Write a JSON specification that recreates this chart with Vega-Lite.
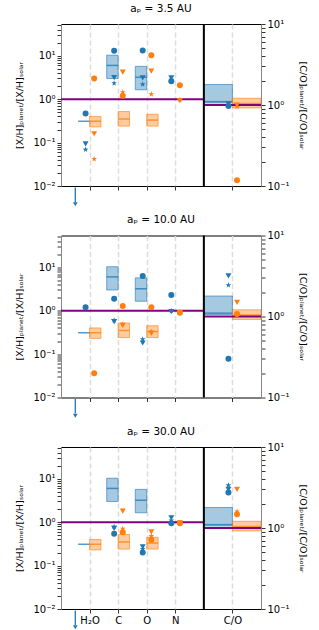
{
  "$schema": "https://vega.github.io/schema/vega-lite/v6.json",
  "padding": {"left": 14, "top": 3, "right": 0, "bottom": 0},
  "spacing": 49.5,
  "bounds": "flush",
  "datasets": {
    "obs": [
      {"planet": "τ Boötis b", "species": "H₂O", "lo": null, "med": 0.31, "hi": null},
      {"planet": "τ Boötis b", "species": "C", "lo": 3.0, "med": 6.0, "hi": 10.3},
      {"planet": "τ Boötis b", "species": "O", "lo": 1.65, "med": 3.2, "hi": 5.7},
      {"planet": "τ Boötis b", "species": "C/O", "lo": 1.06, "med": 1.1, "hi": 1.79},
      {"planet": "WASP-77A b", "species": "H₂O", "lo": 0.23, "med": 0.31, "hi": 0.4},
      {"planet": "WASP-77A b", "species": "C", "lo": 0.24, "med": 0.35, "hi": 0.52},
      {"planet": "WASP-77A b", "species": "O", "lo": 0.24, "med": 0.33, "hi": 0.45},
      {"planet": "WASP-77A b", "species": "C/O", "lo": 0.92, "med": 1.04, "hi": 1.21}
    ],
    "models": [
      {"ap": "3.5", "planet": "τ Boötis b", "species": "H₂O", "alpha": "0.001", "value": 0.47},
      {"ap": "3.5", "planet": "τ Boötis b", "species": "H₂O", "alpha": "0.0005", "value": 0.069},
      {"ap": "3.5", "planet": "τ Boötis b", "species": "H₂O", "alpha": "0.0001", "value": 0.093},
      {"ap": "3.5", "planet": "τ Boötis b", "species": "C", "alpha": "0.001", "value": 13.0},
      {"ap": "3.5", "planet": "τ Boötis b", "species": "C", "alpha": "0.0005", "value": 2.33},
      {"ap": "3.5", "planet": "τ Boötis b", "species": "C", "alpha": "0.0001", "value": 3.14},
      {"ap": "3.5", "planet": "τ Boötis b", "species": "O", "alpha": "0.001", "value": 13.2},
      {"ap": "3.5", "planet": "τ Boötis b", "species": "O", "alpha": "0.0005", "value": 2.2},
      {"ap": "3.5", "planet": "τ Boötis b", "species": "O", "alpha": "0.0001", "value": 3.1},
      {"ap": "3.5", "planet": "τ Boötis b", "species": "N", "alpha": "0.001", "value": 2.6},
      {"ap": "3.5", "planet": "τ Boötis b", "species": "N", "alpha": "0.0005", "value": 2.8},
      {"ap": "3.5", "planet": "τ Boötis b", "species": "N", "alpha": "0.0001", "value": 3.1},
      {"ap": "3.5", "planet": "τ Boötis b", "species": "C/O", "alpha": "0.001", "value": 0.97},
      {"ap": "3.5", "planet": "τ Boötis b", "species": "C/O", "alpha": "0.0005", "value": 1.0},
      {"ap": "3.5", "planet": "τ Boötis b", "species": "C/O", "alpha": "0.0001", "value": 1.03},
      {"ap": "3.5", "planet": "WASP-77A b", "species": "H₂O", "alpha": "0.001", "value": 3.0},
      {"ap": "3.5", "planet": "WASP-77A b", "species": "H₂O", "alpha": "0.0005", "value": 0.042},
      {"ap": "3.5", "planet": "WASP-77A b", "species": "H₂O", "alpha": "0.0001", "value": 0.16},
      {"ap": "3.5", "planet": "WASP-77A b", "species": "C", "alpha": "0.001", "value": 1.2},
      {"ap": "3.5", "planet": "WASP-77A b", "species": "C", "alpha": "0.0005", "value": 1.45},
      {"ap": "3.5", "planet": "WASP-77A b", "species": "C", "alpha": "0.0001", "value": 4.2},
      {"ap": "3.5", "planet": "WASP-77A b", "species": "O", "alpha": "0.001", "value": 10.3},
      {"ap": "3.5", "planet": "WASP-77A b", "species": "O", "alpha": "0.0005", "value": 1.3},
      {"ap": "3.5", "planet": "WASP-77A b", "species": "O", "alpha": "0.0001", "value": 4.45},
      {"ap": "3.5", "planet": "WASP-77A b", "species": "N", "alpha": "0.001", "value": 2.1},
      {"ap": "3.5", "planet": "WASP-77A b", "species": "N", "alpha": "0.0005", "value": 0.97},
      {"ap": "3.5", "planet": "WASP-77A b", "species": "N", "alpha": "0.0001", "value": 0.92},
      {"ap": "3.5", "planet": "WASP-77A b", "species": "C/O", "alpha": "0.001", "value": 0.118},
      {"ap": "3.5", "planet": "WASP-77A b", "species": "C/O", "alpha": "0.0005", "value": 0.95},
      {"ap": "3.5", "planet": "WASP-77A b", "species": "C/O", "alpha": "0.0001", "value": 1.0},
      {"ap": "10.0", "planet": "τ Boötis b", "species": "H₂O", "alpha": "0.001", "value": 1.2},
      {"ap": "10.0", "planet": "τ Boötis b", "species": "C", "alpha": "0.001", "value": 1.88},
      {"ap": "10.0", "planet": "τ Boötis b", "species": "C", "alpha": "0.0005", "value": 0.6},
      {"ap": "10.0", "planet": "τ Boötis b", "species": "C", "alpha": "0.0001", "value": 0.56},
      {"ap": "10.0", "planet": "τ Boötis b", "species": "O", "alpha": "0.001", "value": 6.3},
      {"ap": "10.0", "planet": "τ Boötis b", "species": "O", "alpha": "0.0005", "value": 0.22},
      {"ap": "10.0", "planet": "τ Boötis b", "species": "O", "alpha": "0.0001", "value": 0.18},
      {"ap": "10.0", "planet": "τ Boötis b", "species": "N", "alpha": "0.001", "value": 2.29},
      {"ap": "10.0", "planet": "τ Boötis b", "species": "N", "alpha": "0.0005", "value": 1.0},
      {"ap": "10.0", "planet": "τ Boötis b", "species": "N", "alpha": "0.0001", "value": 0.95},
      {"ap": "10.0", "planet": "τ Boötis b", "species": "C/O", "alpha": "0.001", "value": 0.3},
      {"ap": "10.0", "planet": "τ Boötis b", "species": "C/O", "alpha": "0.0005", "value": 2.44},
      {"ap": "10.0", "planet": "τ Boötis b", "species": "C/O", "alpha": "0.0001", "value": 3.18},
      {"ap": "10.0", "planet": "WASP-77A b", "species": "H₂O", "alpha": "0.001", "value": 0.036},
      {"ap": "10.0", "planet": "WASP-77A b", "species": "C", "alpha": "0.001", "value": 1.28},
      {"ap": "10.0", "planet": "WASP-77A b", "species": "C", "alpha": "0.0005", "value": 0.49},
      {"ap": "10.0", "planet": "WASP-77A b", "species": "C", "alpha": "0.0001", "value": 0.46},
      {"ap": "10.0", "planet": "WASP-77A b", "species": "O", "alpha": "0.001", "value": 1.2},
      {"ap": "10.0", "planet": "WASP-77A b", "species": "O", "alpha": "0.0005", "value": 0.33},
      {"ap": "10.0", "planet": "WASP-77A b", "species": "O", "alpha": "0.0001", "value": 0.3},
      {"ap": "10.0", "planet": "WASP-77A b", "species": "N", "alpha": "0.001", "value": 0.9},
      {"ap": "10.0", "planet": "WASP-77A b", "species": "N", "alpha": "0.0005", "value": 0.9},
      {"ap": "10.0", "planet": "WASP-77A b", "species": "N", "alpha": "0.0001", "value": 0.9},
      {"ap": "10.0", "planet": "WASP-77A b", "species": "C/O", "alpha": "0.001", "value": 1.07},
      {"ap": "10.0", "planet": "WASP-77A b", "species": "C/O", "alpha": "0.0005", "value": 1.1},
      {"ap": "10.0", "planet": "WASP-77A b", "species": "C/O", "alpha": "0.0001", "value": 1.49},
      {"ap": "30.0", "planet": "τ Boötis b", "species": "C", "alpha": "0.001", "value": 0.54},
      {"ap": "30.0", "planet": "τ Boötis b", "species": "C", "alpha": "0.0005", "value": 0.79},
      {"ap": "30.0", "planet": "τ Boötis b", "species": "C", "alpha": "0.0001", "value": 0.72},
      {"ap": "30.0", "planet": "τ Boötis b", "species": "O", "alpha": "0.001", "value": 0.2},
      {"ap": "30.0", "planet": "τ Boötis b", "species": "O", "alpha": "0.0005", "value": 0.24},
      {"ap": "30.0", "planet": "τ Boötis b", "species": "O", "alpha": "0.0001", "value": 0.27},
      {"ap": "30.0", "planet": "τ Boötis b", "species": "N", "alpha": "0.001", "value": 0.95},
      {"ap": "30.0", "planet": "τ Boötis b", "species": "N", "alpha": "0.0005", "value": 1.1},
      {"ap": "30.0", "planet": "τ Boötis b", "species": "N", "alpha": "0.0001", "value": 1.26},
      {"ap": "30.0", "planet": "τ Boötis b", "species": "C/O", "alpha": "0.001", "value": 2.74},
      {"ap": "30.0", "planet": "τ Boötis b", "species": "C/O", "alpha": "0.0005", "value": 3.37},
      {"ap": "30.0", "planet": "τ Boötis b", "species": "C/O", "alpha": "0.0001", "value": 3.0},
      {"ap": "30.0", "planet": "WASP-77A b", "species": "C", "alpha": "0.001", "value": 0.59},
      {"ap": "30.0", "planet": "WASP-77A b", "species": "C", "alpha": "0.0005", "value": 0.71},
      {"ap": "30.0", "planet": "WASP-77A b", "species": "C", "alpha": "0.0001", "value": 1.8},
      {"ap": "30.0", "planet": "WASP-77A b", "species": "O", "alpha": "0.001", "value": 0.395},
      {"ap": "30.0", "planet": "WASP-77A b", "species": "O", "alpha": "0.0005", "value": 0.48},
      {"ap": "30.0", "planet": "WASP-77A b", "species": "O", "alpha": "0.0001", "value": 0.6},
      {"ap": "30.0", "planet": "WASP-77A b", "species": "N", "alpha": "0.001", "value": 0.95},
      {"ap": "30.0", "planet": "WASP-77A b", "species": "N", "alpha": "0.0005", "value": 0.95},
      {"ap": "30.0", "planet": "WASP-77A b", "species": "N", "alpha": "0.0001", "value": 0.97},
      {"ap": "30.0", "planet": "WASP-77A b", "species": "C/O", "alpha": "0.001", "value": 1.48},
      {"ap": "30.0", "planet": "WASP-77A b", "species": "C/O", "alpha": "0.0005", "value": 1.6},
      {"ap": "30.0", "planet": "WASP-77A b", "species": "C/O", "alpha": "0.0001", "value": 3.0}
    ]
  },
  "resolve": {"scale": {"color": "independent", "shape": "independent"}, "legend": {"color": "independent", "shape": "independent"}},
  "vconcat": [
    {
      "title": {"text": "aₚ = 3.5 AU"},
      "width": 200, "height": 162,
      "resolve": {"scale": {"y": "independent"}, "axis": {"y": "independent"}},
      "layer": [
        {"layer": [
          {"data": {"name": "obs"}, "transform": [{"filter": "datum.planet == 'τ Boötis b' && datum.species != 'C/O' && isValid(datum.lo)"}],
           "mark": {"type": "bar", "width": 11.43, "xOffset": -5.71, "fill": "#1f77b4", "fillOpacity": 0.4, "stroke": "#1f77b4", "strokeOpacity": 0.6, "strokeWidth": 1},
           "encoding": {
             "x": {"field": "species", "type": "nominal", "title": null, "scale": {"type": "point", "domain": ["l", "H₂O", "C", "O", "N", "m", "C/O", "r"], "padding": 0},
                   "axis": {"values": ["H₂O", "C", "O", "N", "C/O"], "labels": false, "grid": true, "gridDash": [5, 3], "gridColor": "#dcdcdc", "gridWidth": 1.5, "tickSize": 4, "domain": false}},
             "y": {"field": "lo", "type": "quantitative", "title": "[X/H]ₚₗₐₙₑₜ/[X/H]ₛₒₗₐᵣ", "scale": {"type": "log", "domain": [0.01, 54], "nice": false},
                   "axis": {"orient": "left", "values": [0.01, 0.02, 0.03, 0.04, 0.05, 0.06, 0.07, 0.08, 0.09, 0.1, 0.2, 0.3, 0.4, 0.5, 0.6, 0.7, 0.8, 0.9, 1, 2, 3, 4, 5, 6, 7, 8, 9, 10, 20, 30, 40, 50],
                            "labelExpr": "datum.value == 10 ? '10¹' : datum.value == 1 ? '10⁰' : datum.value == 0.1 ? '10⁻¹' : datum.value == 0.01 ? '10⁻²' : ''",
                            "tickSize": 4, "encode": {"ticks": {"update": {"x2": {"signal": "indexof([0.01, 0.1, 1, 10], datum.value) >= 0 ? -4 : -2"}}}}, "titlePadding": 8, "grid": false}},
             "y2": {"field": "hi"}}},
          {"data": {"name": "obs"}, "transform": [{"filter": "datum.planet == 'WASP-77A b' && datum.species != 'C/O' && isValid(datum.lo)"}],
           "mark": {"type": "bar", "width": 11.43, "xOffset": 5.71, "fill": "#ff7f0e", "fillOpacity": 0.4, "stroke": "#ff7f0e", "strokeOpacity": 0.6, "strokeWidth": 1},
           "encoding": {"x": {"field": "species", "type": "nominal", "title": null}, "y": {"field": "lo", "type": "quantitative", "title": "[X/H]ₚₗₐₙₑₜ/[X/H]ₛₒₗₐᵣ"}, "y2": {"field": "hi"}}},
          {"data": {"name": "obs"}, "transform": [{"filter": "datum.planet == 'τ Boötis b' && datum.species != 'C/O'"}],
           "mark": {"type": "tick", "size": 11.43, "thickness": 1.5, "xOffset": -5.71, "opacity": 0.75},
           "encoding": {"x": {"field": "species", "type": "nominal", "title": null}, "y": {"field": "med", "type": "quantitative", "title": "[X/H]ₚₗₐₙₑₜ/[X/H]ₛₒₗₐᵣ"},
             "color": {"field": "planet", "type": "nominal", "scale": {"domain": ["τ Boötis b", "WASP-77A b"], "range": ["#1f77b4", "#ff7f0e"]}, "legend": null}}},
          {"data": {"name": "obs"}, "transform": [{"filter": "datum.planet == 'WASP-77A b' && datum.species != 'C/O'"}],
           "mark": {"type": "tick", "size": 11.43, "thickness": 1.5, "xOffset": 5.71, "opacity": 0.75},
           "encoding": {"x": {"field": "species", "type": "nominal", "title": null}, "y": {"field": "med", "type": "quantitative", "title": "[X/H]ₚₗₐₙₑₜ/[X/H]ₛₒₗₐᵣ"},
             "color": {"field": "planet", "type": "nominal", "legend": null}}},
          {"data": {"name": "obs"}, "transform": [{"filter": "datum.species == 'none'"}],
           "mark": {"type": "rule", "strokeWidth": 2},
           "encoding": {"y": {"field": "med", "type": "quantitative", "title": "[X/H]ₚₗₐₙₑₜ/[X/H]ₛₒₗₐᵣ"},
             "color": {"field": "planet", "type": "nominal",
               "legend": {"orient": "bottom-right", "offset": 6, "title": null, "symbolType": "stroke", "symbolSize": 260, "symbolStrokeWidth": 2, "labelFontSize": 9.5, "strokeColor": "#cccccc", "fillColor": "white", "cornerRadius": 3, "padding": 5, "rowPadding": 4}}}},
          {"data": {"values": [{}]}, "mark": {"type": "rule", "color": "#800080", "strokeWidth": 2},
           "encoding": {"x": {"datum": "l", "type": "nominal"}, "x2": {"datum": "m"}, "y": {"datum": 1, "type": "quantitative"}}},
          {"data": {"name": "models"}, "transform": [{"filter": "datum.ap == '3.5' && datum.planet == 'τ Boötis b' && datum.species != 'C/O'"}],
           "mark": {"type": "point", "filled": true, "size": 36, "xOffset": -4, "color": "#1f77b4", "opacity": 1},
           "encoding": {"x": {"field": "species", "type": "nominal", "title": null}, "y": {"field": "value", "type": "quantitative", "title": "[X/H]ₚₗₐₙₑₜ/[X/H]ₛₒₗₐᵣ"},
             "shape": {"field": "alpha", "type": "nominal", "scale": {"domain": ["0.001", "0.0005", "0.0001"], "range": ["circle", "M0,-1L0.235,-0.324L0.951,-0.309L0.38,0.124L0.588,0.809L0,0.4L-0.588,0.809L-0.38,0.124L-0.951,-0.309L-0.235,-0.324Z", "triangle-down"]}, "legend": null}}},
          {"data": {"name": "models"}, "transform": [{"filter": "datum.ap == '3.5' && datum.planet == 'WASP-77A b' && datum.species != 'C/O'"}],
           "mark": {"type": "point", "filled": true, "size": 36, "xOffset": 4.6, "color": "#ff7f0e", "opacity": 1},
           "encoding": {"x": {"field": "species", "type": "nominal", "title": null}, "y": {"field": "value", "type": "quantitative", "title": "[X/H]ₚₗₐₙₑₜ/[X/H]ₛₒₗₐᵣ"},
             "shape": {"field": "alpha", "type": "nominal", "legend": null}}},
          {"data": {"values": [{}]}, "mark": {"type": "rule", "color": "#1f77b4", "strokeWidth": 1.3, "xOffset": -14.29},
           "encoding": {"x": {"datum": "H₂O", "type": "nominal"}, "y": {"datum": 0.0092, "type": "quantitative"}, "y2": {"datum": 0.0043}}},
          {"data": {"values": [{}]}, "mark": {"type": "point", "shape": "triangle-down", "filled": true, "size": 22, "color": "#1f77b4", "opacity": 1, "xOffset": -14.29},
           "encoding": {"x": {"datum": "H₂O", "type": "nominal"}, "y": {"datum": 0.0038, "type": "quantitative"}}}
        ]},
        {"layer": [
          {"data": {"name": "obs"}, "transform": [{"filter": "datum.planet == 'τ Boötis b' && datum.species == 'C/O'"}],
           "mark": {"type": "bar", "width": 28.57, "xOffset": -14.29, "fill": "#1f77b4", "fillOpacity": 0.4, "stroke": "#1f77b4", "strokeOpacity": 0.6, "strokeWidth": 1},
           "encoding": {"x": {"field": "species", "type": "nominal", "title": null},
             "y": {"field": "lo", "type": "quantitative", "title": "[C/O]ₚₗₐₙₑₜ/[C/O]ₛₒₗₐᵣ", "scale": {"type": "log", "domain": [0.1, 10], "nice": false},
                   "axis": {"orient": "right", "values": [0.1, 0.2, 0.3, 0.4, 0.5, 0.6, 0.7, 0.8, 0.9, 1, 2, 3, 4, 5, 6, 7, 8, 9, 10],
                            "labelExpr": "datum.value == 10 ? '10¹' : datum.value == 1 ? '10⁰' : datum.value == 0.1 ? '10⁻¹' : ''",
                            "tickSize": 4, "encode": {"ticks": {"update": {"x2": {"signal": "indexof([0.1, 1, 10], datum.value) >= 0 ? 4 : 2"}}}}, "titlePadding": 8, "grid": false}},
             "y2": {"field": "hi"}}},
          {"data": {"name": "obs"}, "transform": [{"filter": "datum.planet == 'WASP-77A b' && datum.species == 'C/O'"}],
           "mark": {"type": "bar", "width": 28.57, "xOffset": 14.29, "fill": "#ff7f0e", "fillOpacity": 0.4, "stroke": "#ff7f0e", "strokeOpacity": 0.6, "strokeWidth": 1},
           "encoding": {"x": {"field": "species", "type": "nominal", "title": null}, "y": {"field": "lo", "type": "quantitative", "title": "[C/O]ₚₗₐₙₑₜ/[C/O]ₛₒₗₐᵣ"}, "y2": {"field": "hi"}}},
          {"data": {"name": "obs"}, "transform": [{"filter": "datum.planet == 'τ Boötis b' && datum.species == 'C/O'"}],
           "mark": {"type": "tick", "size": 28.57, "thickness": 1.5, "xOffset": -14.29, "opacity": 0.75, "color": "#1f77b4"},
           "encoding": {"x": {"field": "species", "type": "nominal", "title": null}, "y": {"field": "med", "type": "quantitative", "title": "[C/O]ₚₗₐₙₑₜ/[C/O]ₛₒₗₐᵣ"}}},
          {"data": {"name": "obs"}, "transform": [{"filter": "datum.planet == 'WASP-77A b' && datum.species == 'C/O'"}],
           "mark": {"type": "tick", "size": 28.57, "thickness": 1.5, "xOffset": 14.29, "opacity": 0.75, "color": "#ff7f0e"},
           "encoding": {"x": {"field": "species", "type": "nominal", "title": null}, "y": {"field": "med", "type": "quantitative", "title": "[C/O]ₚₗₐₙₑₜ/[C/O]ₛₒₗₐᵣ"}}},
          {"data": {"values": [{}]}, "mark": {"type": "rule", "color": "#800080", "strokeWidth": 2},
           "encoding": {"x": {"datum": "m", "type": "nominal"}, "x2": {"datum": "r"}, "y": {"datum": 1, "type": "quantitative"}}},
          {"data": {"values": [{}]}, "mark": {"type": "rule", "color": "black", "strokeWidth": 2},
           "encoding": {"x": {"datum": "m", "type": "nominal"}}},
          {"data": {"name": "models"}, "transform": [{"filter": "datum.ap == '3.5' && datum.planet == 'τ Boötis b' && datum.species == 'C/O'"}],
           "mark": {"type": "point", "filled": true, "size": 36, "xOffset": -4, "color": "#1f77b4", "opacity": 1},
           "encoding": {"x": {"field": "species", "type": "nominal", "title": null}, "y": {"field": "value", "type": "quantitative", "title": "[C/O]ₚₗₐₙₑₜ/[C/O]ₛₒₗₐᵣ"},
             "shape": {"field": "alpha", "type": "nominal", "legend": null}}},
          {"data": {"name": "models"}, "transform": [{"filter": "datum.ap == '3.5' && datum.planet == 'WASP-77A b' && datum.species == 'C/O'"}],
           "mark": {"type": "point", "filled": true, "size": 36, "xOffset": 4.6, "color": "#ff7f0e", "opacity": 1},
           "encoding": {"x": {"field": "species", "type": "nominal", "title": null}, "y": {"field": "value", "type": "quantitative", "title": "[C/O]ₚₗₐₙₑₜ/[C/O]ₛₒₗₐᵣ"},
             "shape": {"field": "alpha", "type": "nominal", "legend": null}}}
        ]}
      ]
    },
    {
      "title": {"text": "aₚ = 10.0 AU"},
      "width": 200, "height": 162,
      "resolve": {"scale": {"y": "independent"}, "axis": {"y": "independent"}},
      "layer": [
        {"layer": [
          {"data": {"name": "obs"}, "transform": [{"filter": "datum.planet == 'τ Boötis b' && datum.species != 'C/O' && isValid(datum.lo)"}],
           "mark": {"type": "bar", "width": 11.43, "xOffset": -5.71, "fill": "#1f77b4", "fillOpacity": 0.4, "stroke": "#1f77b4", "strokeOpacity": 0.6, "strokeWidth": 1},
           "encoding": {
             "x": {"field": "species", "type": "nominal", "title": null, "scale": {"type": "point", "domain": ["l", "H₂O", "C", "O", "N", "m", "C/O", "r"], "padding": 0},
                   "axis": {"values": ["H₂O", "C", "O", "N", "C/O"], "labels": false, "grid": true, "gridDash": [5, 3], "gridColor": "#dcdcdc", "gridWidth": 1.5, "tickSize": 4, "domain": false}},
             "y": {"field": "lo", "type": "quantitative", "title": "[X/H]ₚₗₐₙₑₜ/[X/H]ₛₒₗₐᵣ", "scale": {"type": "log", "domain": [0.01, 54], "nice": false},
                   "axis": {"orient": "left", "values": [0.01, 0.02, 0.03, 0.04, 0.05, 0.06, 0.07, 0.08, 0.09, 0.1, 0.2, 0.3, 0.4, 0.5, 0.6, 0.7, 0.8, 0.9, 1, 2, 3, 4, 5, 6, 7, 8, 9, 10, 20, 30, 40, 50],
                            "labelExpr": "datum.value == 10 ? '10¹' : datum.value == 1 ? '10⁰' : datum.value == 0.1 ? '10⁻¹' : datum.value == 0.01 ? '10⁻²' : ''",
                            "tickSize": 4, "encode": {"ticks": {"update": {"x2": {"signal": "indexof([0.01, 0.1, 1, 10], datum.value) >= 0 ? -4 : -2"}}}}, "titlePadding": 8, "grid": false}},
             "y2": {"field": "hi"}}},
          {"data": {"name": "obs"}, "transform": [{"filter": "datum.planet == 'WASP-77A b' && datum.species != 'C/O' && isValid(datum.lo)"}],
           "mark": {"type": "bar", "width": 11.43, "xOffset": 5.71, "fill": "#ff7f0e", "fillOpacity": 0.4, "stroke": "#ff7f0e", "strokeOpacity": 0.6, "strokeWidth": 1},
           "encoding": {"x": {"field": "species", "type": "nominal", "title": null}, "y": {"field": "lo", "type": "quantitative", "title": "[X/H]ₚₗₐₙₑₜ/[X/H]ₛₒₗₐᵣ"}, "y2": {"field": "hi"}}},
          {"data": {"name": "obs"}, "transform": [{"filter": "datum.planet == 'τ Boötis b' && datum.species != 'C/O'"}],
           "mark": {"type": "tick", "size": 11.43, "thickness": 1.5, "xOffset": -5.71, "opacity": 0.75, "color": "#1f77b4"},
           "encoding": {"x": {"field": "species", "type": "nominal", "title": null}, "y": {"field": "med", "type": "quantitative", "title": "[X/H]ₚₗₐₙₑₜ/[X/H]ₛₒₗₐᵣ"}}},
          {"data": {"name": "obs"}, "transform": [{"filter": "datum.planet == 'WASP-77A b' && datum.species != 'C/O'"}],
           "mark": {"type": "tick", "size": 11.43, "thickness": 1.5, "xOffset": 5.71, "opacity": 0.75, "color": "#ff7f0e"},
           "encoding": {"x": {"field": "species", "type": "nominal", "title": null}, "y": {"field": "med", "type": "quantitative", "title": "[X/H]ₚₗₐₙₑₜ/[X/H]ₛₒₗₐᵣ"}}},
          {"data": {"values": [{}]}, "mark": {"type": "rule", "color": "#800080", "strokeWidth": 2},
           "encoding": {"x": {"datum": "l", "type": "nominal"}, "x2": {"datum": "m"}, "y": {"datum": 1, "type": "quantitative"}}},
          {"data": {"name": "models"}, "transform": [{"filter": "datum.ap == '10.0' && datum.planet == 'τ Boötis b' && datum.species != 'C/O'"}],
           "mark": {"type": "point", "filled": true, "size": 36, "xOffset": -4, "color": "#1f77b4", "opacity": 1},
           "encoding": {"x": {"field": "species", "type": "nominal", "title": null}, "y": {"field": "value", "type": "quantitative", "title": "[X/H]ₚₗₐₙₑₜ/[X/H]ₛₒₗₐᵣ"},
             "shape": {"field": "alpha", "type": "nominal", "scale": {"domain": ["0.001", "0.0005", "0.0001"], "range": ["circle", "M0,-1L0.235,-0.324L0.951,-0.309L0.38,0.124L0.588,0.809L0,0.4L-0.588,0.809L-0.38,0.124L-0.951,-0.309L-0.235,-0.324Z", "triangle-down"]}, "legend": null}}},
          {"data": {"name": "models"}, "transform": [{"filter": "datum.ap == '10.0' && datum.planet == 'WASP-77A b' && datum.species != 'C/O'"}],
           "mark": {"type": "point", "filled": true, "size": 36, "xOffset": 4.6, "color": "#ff7f0e", "opacity": 1},
           "encoding": {"x": {"field": "species", "type": "nominal", "title": null}, "y": {"field": "value", "type": "quantitative", "title": "[X/H]ₚₗₐₙₑₜ/[X/H]ₛₒₗₐᵣ"},
             "shape": {"field": "alpha", "type": "nominal", "legend": null}}},
          {"data": {"name": "models"}, "transform": [{"filter": "datum.ap == 'none'"}],
           "mark": {"type": "point", "filled": true, "size": 36, "color": "black", "opacity": 1},
           "encoding": {"y": {"field": "value", "type": "quantitative", "title": "[X/H]ₚₗₐₙₑₜ/[X/H]ₛₒₗₐᵣ"},
             "shape": {"field": "alpha", "type": "nominal",
               "legend": {"orient": "bottom-right", "offset": 4, "title": null, "labelExpr": "'α = ' + datum.label", "symbolSize": 60, "symbolFillColor": "black", "symbolStrokeColor": "black", "labelFontSize": 9.5, "strokeColor": "#cccccc", "fillColor": "white", "cornerRadius": 3, "padding": 5, "rowPadding": 4}}}},
          {"data": {"values": [{}]}, "mark": {"type": "rule", "color": "#1f77b4", "strokeWidth": 1.3, "xOffset": -14.29},
           "encoding": {"x": {"datum": "H₂O", "type": "nominal"}, "y": {"datum": 0.0092, "type": "quantitative"}, "y2": {"datum": 0.0043}}},
          {"data": {"values": [{}]}, "mark": {"type": "point", "shape": "triangle-down", "filled": true, "size": 22, "color": "#1f77b4", "opacity": 1, "xOffset": -14.29},
           "encoding": {"x": {"datum": "H₂O", "type": "nominal"}, "y": {"datum": 0.0038, "type": "quantitative"}}}
        ]},
        {"layer": [
          {"data": {"name": "obs"}, "transform": [{"filter": "datum.planet == 'τ Boötis b' && datum.species == 'C/O'"}],
           "mark": {"type": "bar", "width": 28.57, "xOffset": -14.29, "fill": "#1f77b4", "fillOpacity": 0.4, "stroke": "#1f77b4", "strokeOpacity": 0.6, "strokeWidth": 1},
           "encoding": {"x": {"field": "species", "type": "nominal", "title": null},
             "y": {"field": "lo", "type": "quantitative", "title": "[C/O]ₚₗₐₙₑₜ/[C/O]ₛₒₗₐᵣ", "scale": {"type": "log", "domain": [0.1, 10], "nice": false},
                   "axis": {"orient": "right", "values": [0.1, 0.2, 0.3, 0.4, 0.5, 0.6, 0.7, 0.8, 0.9, 1, 2, 3, 4, 5, 6, 7, 8, 9, 10],
                            "labelExpr": "datum.value == 10 ? '10¹' : datum.value == 1 ? '10⁰' : datum.value == 0.1 ? '10⁻¹' : ''",
                            "tickSize": 4, "encode": {"ticks": {"update": {"x2": {"signal": "indexof([0.1, 1, 10], datum.value) >= 0 ? 4 : 2"}}}}, "titlePadding": 8, "grid": false}},
             "y2": {"field": "hi"}}},
          {"data": {"name": "obs"}, "transform": [{"filter": "datum.planet == 'WASP-77A b' && datum.species == 'C/O'"}],
           "mark": {"type": "bar", "width": 28.57, "xOffset": 14.29, "fill": "#ff7f0e", "fillOpacity": 0.4, "stroke": "#ff7f0e", "strokeOpacity": 0.6, "strokeWidth": 1},
           "encoding": {"x": {"field": "species", "type": "nominal", "title": null}, "y": {"field": "lo", "type": "quantitative", "title": "[C/O]ₚₗₐₙₑₜ/[C/O]ₛₒₗₐᵣ"}, "y2": {"field": "hi"}}},
          {"data": {"name": "obs"}, "transform": [{"filter": "datum.planet == 'τ Boötis b' && datum.species == 'C/O'"}],
           "mark": {"type": "tick", "size": 28.57, "thickness": 1.5, "xOffset": -14.29, "opacity": 0.75, "color": "#1f77b4"},
           "encoding": {"x": {"field": "species", "type": "nominal", "title": null}, "y": {"field": "med", "type": "quantitative", "title": "[C/O]ₚₗₐₙₑₜ/[C/O]ₛₒₗₐᵣ"}}},
          {"data": {"name": "obs"}, "transform": [{"filter": "datum.planet == 'WASP-77A b' && datum.species == 'C/O'"}],
           "mark": {"type": "tick", "size": 28.57, "thickness": 1.5, "xOffset": 14.29, "opacity": 0.75, "color": "#ff7f0e"},
           "encoding": {"x": {"field": "species", "type": "nominal", "title": null}, "y": {"field": "med", "type": "quantitative", "title": "[C/O]ₚₗₐₙₑₜ/[C/O]ₛₒₗₐᵣ"}}},
          {"data": {"values": [{}]}, "mark": {"type": "rule", "color": "#800080", "strokeWidth": 2},
           "encoding": {"x": {"datum": "m", "type": "nominal"}, "x2": {"datum": "r"}, "y": {"datum": 1, "type": "quantitative"}}},
          {"data": {"values": [{}]}, "mark": {"type": "rule", "color": "black", "strokeWidth": 2},
           "encoding": {"x": {"datum": "m", "type": "nominal"}}},
          {"data": {"name": "models"}, "transform": [{"filter": "datum.ap == '10.0' && datum.planet == 'τ Boötis b' && datum.species == 'C/O'"}],
           "mark": {"type": "point", "filled": true, "size": 36, "xOffset": -4, "color": "#1f77b4", "opacity": 1},
           "encoding": {"x": {"field": "species", "type": "nominal", "title": null}, "y": {"field": "value", "type": "quantitative", "title": "[C/O]ₚₗₐₙₑₜ/[C/O]ₛₒₗₐᵣ"},
             "shape": {"field": "alpha", "type": "nominal", "legend": null}}},
          {"data": {"name": "models"}, "transform": [{"filter": "datum.ap == '10.0' && datum.planet == 'WASP-77A b' && datum.species == 'C/O'"}],
           "mark": {"type": "point", "filled": true, "size": 36, "xOffset": 4.6, "color": "#ff7f0e", "opacity": 1},
           "encoding": {"x": {"field": "species", "type": "nominal", "title": null}, "y": {"field": "value", "type": "quantitative", "title": "[C/O]ₚₗₐₙₑₜ/[C/O]ₛₒₗₐᵣ"},
             "shape": {"field": "alpha", "type": "nominal", "legend": null}}}
        ]}
      ]
    },
    {
      "title": {"text": "aₚ = 30.0 AU"},
      "width": 200, "height": 162,
      "resolve": {"scale": {"y": "independent"}, "axis": {"y": "independent"}},
      "layer": [
        {"layer": [
          {"data": {"name": "obs"}, "transform": [{"filter": "datum.planet == 'τ Boötis b' && datum.species != 'C/O' && isValid(datum.lo)"}],
           "mark": {"type": "bar", "width": 11.43, "xOffset": -5.71, "fill": "#1f77b4", "fillOpacity": 0.4, "stroke": "#1f77b4", "strokeOpacity": 0.6, "strokeWidth": 1},
           "encoding": {
             "x": {"field": "species", "type": "nominal", "title": null, "scale": {"type": "point", "domain": ["l", "H₂O", "C", "O", "N", "m", "C/O", "r"], "padding": 0},
                   "axis": {"values": ["H₂O", "C", "O", "N", "C/O"], "labels": true, "labelAngle": 0, "labelPadding": 2, "grid": true, "gridDash": [5, 3], "gridColor": "#dcdcdc", "gridWidth": 1.5, "tickSize": 4, "domain": false}},
             "y": {"field": "lo", "type": "quantitative", "title": "[X/H]ₚₗₐₙₑₜ/[X/H]ₛₒₗₐᵣ", "scale": {"type": "log", "domain": [0.01, 54], "nice": false},
                   "axis": {"orient": "left", "values": [0.01, 0.02, 0.03, 0.04, 0.05, 0.06, 0.07, 0.08, 0.09, 0.1, 0.2, 0.3, 0.4, 0.5, 0.6, 0.7, 0.8, 0.9, 1, 2, 3, 4, 5, 6, 7, 8, 9, 10, 20, 30, 40, 50],
                            "labelExpr": "datum.value == 10 ? '10¹' : datum.value == 1 ? '10⁰' : datum.value == 0.1 ? '10⁻¹' : datum.value == 0.01 ? '10⁻²' : ''",
                            "tickSize": 4, "encode": {"ticks": {"update": {"x2": {"signal": "indexof([0.01, 0.1, 1, 10], datum.value) >= 0 ? -4 : -2"}}}}, "titlePadding": 8, "grid": false}},
             "y2": {"field": "hi"}}},
          {"data": {"name": "obs"}, "transform": [{"filter": "datum.planet == 'WASP-77A b' && datum.species != 'C/O' && isValid(datum.lo)"}],
           "mark": {"type": "bar", "width": 11.43, "xOffset": 5.71, "fill": "#ff7f0e", "fillOpacity": 0.4, "stroke": "#ff7f0e", "strokeOpacity": 0.6, "strokeWidth": 1},
           "encoding": {"x": {"field": "species", "type": "nominal", "title": null}, "y": {"field": "lo", "type": "quantitative", "title": "[X/H]ₚₗₐₙₑₜ/[X/H]ₛₒₗₐᵣ"}, "y2": {"field": "hi"}}},
          {"data": {"name": "obs"}, "transform": [{"filter": "datum.planet == 'τ Boötis b' && datum.species != 'C/O'"}],
           "mark": {"type": "tick", "size": 11.43, "thickness": 1.5, "xOffset": -5.71, "opacity": 0.75, "color": "#1f77b4"},
           "encoding": {"x": {"field": "species", "type": "nominal", "title": null}, "y": {"field": "med", "type": "quantitative", "title": "[X/H]ₚₗₐₙₑₜ/[X/H]ₛₒₗₐᵣ"}}},
          {"data": {"name": "obs"}, "transform": [{"filter": "datum.planet == 'WASP-77A b' && datum.species != 'C/O'"}],
           "mark": {"type": "tick", "size": 11.43, "thickness": 1.5, "xOffset": 5.71, "opacity": 0.75, "color": "#ff7f0e"},
           "encoding": {"x": {"field": "species", "type": "nominal", "title": null}, "y": {"field": "med", "type": "quantitative", "title": "[X/H]ₚₗₐₙₑₜ/[X/H]ₛₒₗₐᵣ"}}},
          {"data": {"values": [{}]}, "mark": {"type": "rule", "color": "#800080", "strokeWidth": 2},
           "encoding": {"x": {"datum": "l", "type": "nominal"}, "x2": {"datum": "m"}, "y": {"datum": 1, "type": "quantitative"}}},
          {"data": {"name": "models"}, "transform": [{"filter": "datum.ap == '30.0' && datum.planet == 'τ Boötis b' && datum.species != 'C/O'"}],
           "mark": {"type": "point", "filled": true, "size": 36, "xOffset": -4, "color": "#1f77b4", "opacity": 1},
           "encoding": {"x": {"field": "species", "type": "nominal", "title": null}, "y": {"field": "value", "type": "quantitative", "title": "[X/H]ₚₗₐₙₑₜ/[X/H]ₛₒₗₐᵣ"},
             "shape": {"field": "alpha", "type": "nominal", "scale": {"domain": ["0.001", "0.0005", "0.0001"], "range": ["circle", "M0,-1L0.235,-0.324L0.951,-0.309L0.38,0.124L0.588,0.809L0,0.4L-0.588,0.809L-0.38,0.124L-0.951,-0.309L-0.235,-0.324Z", "triangle-down"]}, "legend": null}}},
          {"data": {"name": "models"}, "transform": [{"filter": "datum.ap == '30.0' && datum.planet == 'WASP-77A b' && datum.species != 'C/O'"}],
           "mark": {"type": "point", "filled": true, "size": 36, "xOffset": 4.6, "color": "#ff7f0e", "opacity": 1},
           "encoding": {"x": {"field": "species", "type": "nominal", "title": null}, "y": {"field": "value", "type": "quantitative", "title": "[X/H]ₚₗₐₙₑₜ/[X/H]ₛₒₗₐᵣ"},
             "shape": {"field": "alpha", "type": "nominal", "legend": null}}},
          {"data": {"values": [{}]}, "mark": {"type": "rule", "color": "#1f77b4", "strokeWidth": 1.3, "xOffset": -14.29},
           "encoding": {"x": {"datum": "H₂O", "type": "nominal"}, "y": {"datum": 0.0092, "type": "quantitative"}, "y2": {"datum": 0.0043}}},
          {"data": {"values": [{}]}, "mark": {"type": "point", "shape": "triangle-down", "filled": true, "size": 22, "color": "#1f77b4", "opacity": 1, "xOffset": -14.29},
           "encoding": {"x": {"datum": "H₂O", "type": "nominal"}, "y": {"datum": 0.0038, "type": "quantitative"}}}
        ]},
        {"layer": [
          {"data": {"name": "obs"}, "transform": [{"filter": "datum.planet == 'τ Boötis b' && datum.species == 'C/O'"}],
           "mark": {"type": "bar", "width": 28.57, "xOffset": -14.29, "fill": "#1f77b4", "fillOpacity": 0.4, "stroke": "#1f77b4", "strokeOpacity": 0.6, "strokeWidth": 1},
           "encoding": {"x": {"field": "species", "type": "nominal", "title": null},
             "y": {"field": "lo", "type": "quantitative", "title": "[C/O]ₚₗₐₙₑₜ/[C/O]ₛₒₗₐᵣ", "scale": {"type": "log", "domain": [0.1, 10], "nice": false},
                   "axis": {"orient": "right", "values": [0.1, 0.2, 0.3, 0.4, 0.5, 0.6, 0.7, 0.8, 0.9, 1, 2, 3, 4, 5, 6, 7, 8, 9, 10],
                            "labelExpr": "datum.value == 10 ? '10¹' : datum.value == 1 ? '10⁰' : datum.value == 0.1 ? '10⁻¹' : ''",
                            "tickSize": 4, "encode": {"ticks": {"update": {"x2": {"signal": "indexof([0.1, 1, 10], datum.value) >= 0 ? 4 : 2"}}}}, "titlePadding": 8, "grid": false}},
             "y2": {"field": "hi"}}},
          {"data": {"name": "obs"}, "transform": [{"filter": "datum.planet == 'WASP-77A b' && datum.species == 'C/O'"}],
           "mark": {"type": "bar", "width": 28.57, "xOffset": 14.29, "fill": "#ff7f0e", "fillOpacity": 0.4, "stroke": "#ff7f0e", "strokeOpacity": 0.6, "strokeWidth": 1},
           "encoding": {"x": {"field": "species", "type": "nominal", "title": null}, "y": {"field": "lo", "type": "quantitative", "title": "[C/O]ₚₗₐₙₑₜ/[C/O]ₛₒₗₐᵣ"}, "y2": {"field": "hi"}}},
          {"data": {"name": "obs"}, "transform": [{"filter": "datum.planet == 'τ Boötis b' && datum.species == 'C/O'"}],
           "mark": {"type": "tick", "size": 28.57, "thickness": 1.5, "xOffset": -14.29, "opacity": 0.75, "color": "#1f77b4"},
           "encoding": {"x": {"field": "species", "type": "nominal", "title": null}, "y": {"field": "med", "type": "quantitative", "title": "[C/O]ₚₗₐₙₑₜ/[C/O]ₛₒₗₐᵣ"}}},
          {"data": {"name": "obs"}, "transform": [{"filter": "datum.planet == 'WASP-77A b' && datum.species == 'C/O'"}],
           "mark": {"type": "tick", "size": 28.57, "thickness": 1.5, "xOffset": 14.29, "opacity": 0.75, "color": "#ff7f0e"},
           "encoding": {"x": {"field": "species", "type": "nominal", "title": null}, "y": {"field": "med", "type": "quantitative", "title": "[C/O]ₚₗₐₙₑₜ/[C/O]ₛₒₗₐᵣ"}}},
          {"data": {"values": [{}]}, "mark": {"type": "rule", "color": "#800080", "strokeWidth": 2},
           "encoding": {"x": {"datum": "m", "type": "nominal"}, "x2": {"datum": "r"}, "y": {"datum": 1, "type": "quantitative"}}},
          {"data": {"values": [{}]}, "mark": {"type": "rule", "color": "black", "strokeWidth": 2},
           "encoding": {"x": {"datum": "m", "type": "nominal"}}},
          {"data": {"name": "models"}, "transform": [{"filter": "datum.ap == '30.0' && datum.planet == 'τ Boötis b' && datum.species == 'C/O'"}],
           "mark": {"type": "point", "filled": true, "size": 36, "xOffset": -4, "color": "#1f77b4", "opacity": 1},
           "encoding": {"x": {"field": "species", "type": "nominal", "title": null}, "y": {"field": "value", "type": "quantitative", "title": "[C/O]ₚₗₐₙₑₜ/[C/O]ₛₒₗₐᵣ"},
             "shape": {"field": "alpha", "type": "nominal", "legend": null}}},
          {"data": {"name": "models"}, "transform": [{"filter": "datum.ap == '30.0' && datum.planet == 'WASP-77A b' && datum.species == 'C/O'"}],
           "mark": {"type": "point", "filled": true, "size": 36, "xOffset": 4.6, "color": "#ff7f0e", "opacity": 1},
           "encoding": {"x": {"field": "species", "type": "nominal", "title": null}, "y": {"field": "value", "type": "quantitative", "title": "[C/O]ₚₗₐₙₑₜ/[C/O]ₛₒₗₐᵣ"},
             "shape": {"field": "alpha", "type": "nominal", "legend": null}}}
        ]}
      ]
    }
  ],
  "config": {
    "font": "DejaVu Sans",
    "view": {"stroke": "black", "strokeWidth": 1},
    "axis": {"labelFont": "DejaVu Sans", "titleFont": "DejaVu Sans", "labelColor": "black", "titleColor": "black", "tickColor": "black", "titleFontWeight": "normal", "labelFontSize": 10, "titleFontSize": 9.5, "tickWidth": 0.8, "labelOverlap": false, "labelFlush": false, "labelPadding": 2},
    "title": {"font": "DejaVu Sans", "fontSize": 10.5, "fontWeight": "normal", "offset": 5, "anchor": "middle", "color": "black"},
    "legend": {"labelFont": "DejaVu Sans", "labelColor": "black", "symbolBaseFillColor": "black", "symbolBaseStrokeColor": "black"}
  }
}
